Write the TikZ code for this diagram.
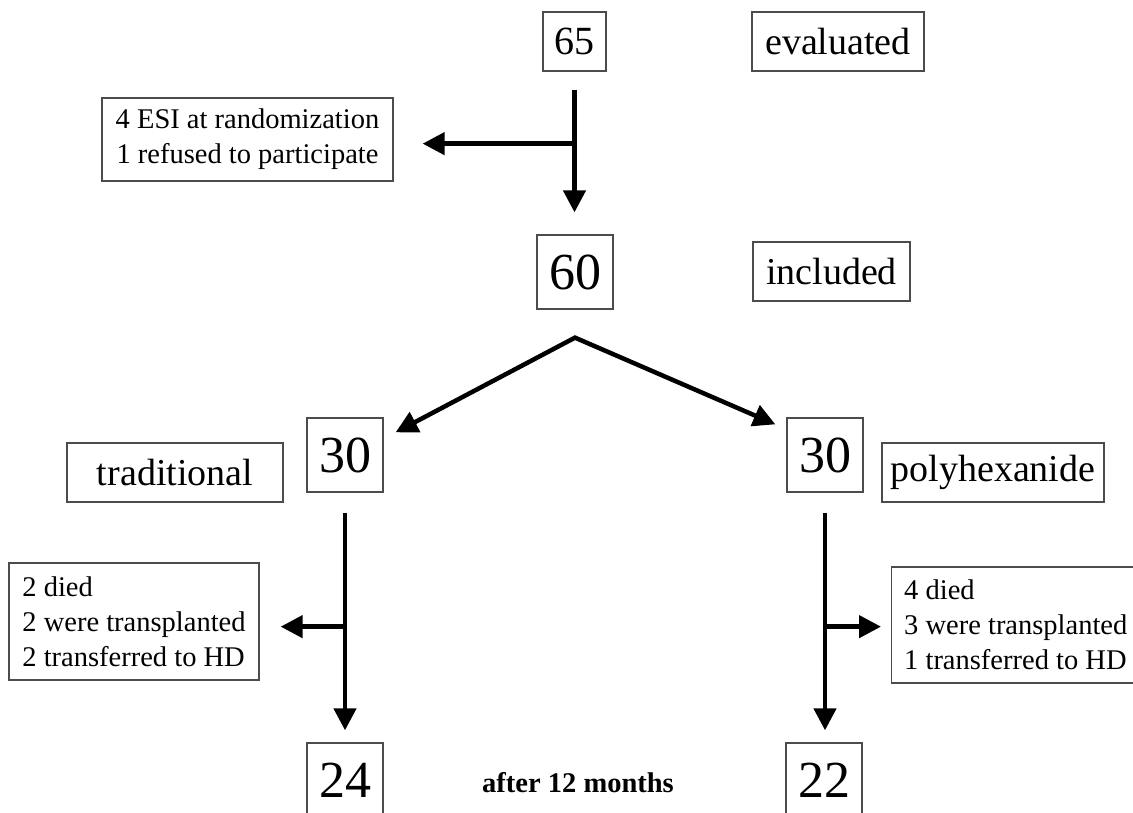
\documentclass[tikz,border=0pt]{standalone}
\usepackage{fontspec}
\setmainfont{Liberation Serif}
\usetikzlibrary{arrows.meta,calc}
\begin{document}
\begin{tikzpicture}[x=1pt,y=-1pt,
  bx/.style={draw=black!70, line width=1.3pt, inner sep=0pt},
  bignum/.style={bx, minimum width=76pt, minimum height=74pt, font=\fontsize{52}{52}\selectfont},
  topnum/.style={bx, minimum width=63pt, minimum height=59pt, font=\fontsize{40}{40}\selectfont},
  lbl/.style={bx, minimum height=59pt, font=\fontsize{38}{38}\selectfont},
  det/.style={bx, font=\fontsize{28.5}{35}\selectfont},
  arr/.style={line width=4.5pt, -{Triangle[length=22pt,width=22pt]}}
]
\clip (0,0) rectangle (1133,813);
\fill[white] (0,0) rectangle (1133,813);
% top row
\node[topnum] (n65) at (574.5,41.5) {65};
\node[lbl, minimum width=172pt] (eval) at (838,41.5) {evaluated};
\node[det, minimum width=291pt, minimum height=83pt, align=center] (esi) at (247.5,139.5) {4 ESI at randomization\\1 refused to participate};
% second row
\node[bignum] (n60) at (575,272) {60};
\node[lbl, minimum width=157pt] (incl) at (831.5,271.5) {included};
% third row
\node[bignum] (l30) at (345,455) {30};
\node[lbl, minimum width=216pt] (trad) at (175,472.5) {traditional};
\node[bignum] (r30) at (825,455) {30};
\node[lbl, minimum width=222pt] (poly) at (993,472.5) {polyhexanide};
% detail boxes
\node[det, minimum width=250pt, minimum height=117pt, align=left] (ldet) at (134,621.5) {2 died\\2 were transplanted\\2 transferred to HD};
\node[det, minimum width=254pt, minimum height=116pt, align=left, anchor=west] (rdet) at (891,625) {};
\node[font=\fontsize{28.5}{35}\selectfont, inner sep=0pt, align=left, anchor=west] (rtxt) at (904,625) {4 died\\3 were transplanted\\1 transferred to HD};
% bottom row
\node[bignum] (n24) at (345,780) {24};
\node[bignum] (n22) at (824,780) {22};
\node[font=\bfseries\fontsize{28.5}{30}\selectfont, inner sep=0pt] (after) at (578,783) {after 12 months};
% connectors
\draw[arr, shorten <=18pt, shorten >=22pt] (n65.south) -- (n65.south |- n60.north);
\coordinate (j1) at ($(n65.south)+(0,72)$);
\draw[arr, shorten >=29pt] (j1) -- (j1 -| esi.east);
\coordinate (v) at ($(n60.south)+(0,28)$);
\coordinate (ltip) at ($(l30.north east)+(12,15)$);
\coordinate (rtip) at ($(r30.north west)+(-11,7)$);
\draw[line width=4.5pt, line join=miter, {Triangle[length=22pt,width=22pt]}-{Triangle[length=22pt,width=22pt]}] (ltip) -- (v) -- (rtip);
\draw[arr, shorten <=20pt, shorten >=12pt] (l30.south) -- (n24.north);
\coordinate (j2) at ($(l30.south)+(0,134)$);
\draw[arr, shorten >=21pt] (j2) -- (j2 -| ldet.east);
\draw[arr, shorten <=20pt, shorten >=12pt] (r30.south) -- (r30.south |- n22.north);
\coordinate (j3) at ($(r30.south)+(0,134)$);
\draw[arr, shorten >=10pt] (j3) -- (j3 -| rdet.west);
\end{tikzpicture}
\end{document}
